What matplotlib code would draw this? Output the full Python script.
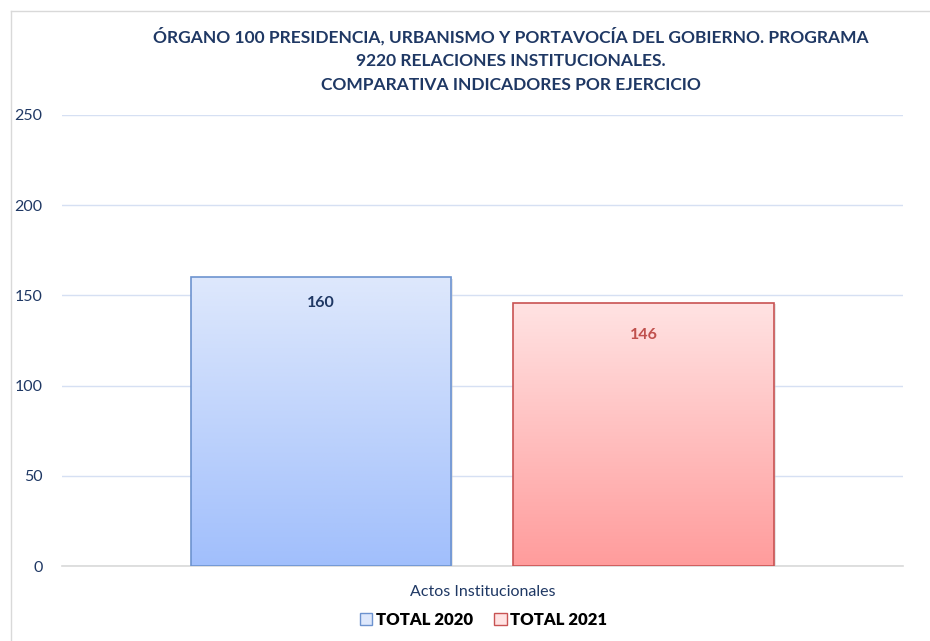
import matplotlib
matplotlib.use("Agg")
import matplotlib.pyplot as plt
import numpy as np
from matplotlib.colors import LinearSegmentedColormap
from matplotlib.patches import Patch, Rectangle

# data
categories = ["Actos Institucionales"]
series_names = ["TOTAL 2020", "TOTAL 2021"]
values = [160, 146]
yticks = [0, 50, 100, 150, 200, 250]

title = ("ÓRGANO 100 PRESIDENCIA, URBANISMO Y PORTAVOCÍA DEL GOBIERNO. PROGRAMA\n"
         "9220 RELACIONES INSTITUCIONALES.\n"
         "COMPARATIVA INDICADORES POR EJERCICIO")

plt.rcParams['font.family'] = ['Lato', 'DejaVu Sans']

top_colors = ['#DEE8FC', '#FFE3E3']
bot_colors = ['#A1BFFC', '#FF9C9C']
edge_colors = ['#6D93CF', '#C85353']
label_colors = ['#1F3864', '#C0504D']
label_drop = [14, 18]  # how far below the bar top the value label sits
dark_blue = '#1F3864'

fig = plt.figure(figsize=(9.3, 6.41), dpi=100)
ax = fig.add_axes([0.0667, 0.117, 0.904, 0.7036])

# outer border (left and top visible)
fig.add_artist(plt.Line2D([10.5 / 930, 10.5 / 930], [0, 1 - 11 / 641], transform=fig.transFigure,
                          color='#D9D9D9', lw=1))
fig.add_artist(plt.Line2D([10.5 / 930, 1], [1 - 11 / 641, 1 - 11 / 641], transform=fig.transFigure,
                          color='#D9D9D9', lw=1))

width = 0.31
offsets = [-0.192, 0.192]
x0 = np.arange(len(categories))

for i, (name, v) in enumerate(zip(series_names, values)):
    xc = x0[0] + offsets[i]
    cmap = LinearSegmentedColormap.from_list('g%d' % i, [bot_colors[i], top_colors[i]])
    grad = np.linspace(0, 1, 256).reshape(-1, 1)
    # soft shadow
    sh = Rectangle((xc - width / 2, 0), width, v, facecolor='#C8C8C8', edgecolor='none',
                   alpha=0.45, zorder=2)
    sh.set_transform(ax.transData + matplotlib.transforms.ScaledTranslation(1.5 / 100, -1.5 / 100, fig.dpi_scale_trans))
    ax.add_patch(sh)
    bar = ax.bar(xc, v, width, color='none', edgecolor=edge_colors[i], linewidth=1.2, zorder=4, label=name)[0]
    im = ax.imshow(grad, extent=[xc - width / 2, xc + width / 2, 0, v], origin='lower',
                   cmap=cmap, aspect='auto', zorder=3)
    im.set_clip_path(bar)
    ax.text(xc, v - label_drop[i], str(v), ha='center', va='center', fontsize=11.5, fontweight='bold',
            color=label_colors[i], zorder=5)

ax.set_xlim(-0.5, 0.5)
ax.set_ylim(0, 250)
ax.set_yticks(yticks)
ax.set_xticks(x0)
ax.set_xticklabels(categories)
ax.tick_params(axis='both', length=0, labelsize=11.5, colors=dark_blue)
ax.tick_params(axis='y', pad=14)
ax.tick_params(axis='x', pad=14)
ax.grid(axis='y', color='#D6E0F3', linewidth=1, zorder=0)
ax.set_axisbelow(True)
for s in ['top', 'right', 'left']:
    ax.spines[s].set_visible(False)
ax.spines['bottom'].set_color('#D9D9D9')
ax.spines['bottom'].set_linewidth(1.2)
ax.spines['bottom'].set_zorder(1)

fig.text(0.549, 1 - 60 / 641, title, ha='center', va='center', fontsize=12.5, fontweight='bold',
         color=dark_blue, linespacing=1.6)

handles = [Patch(facecolor=top_colors[i], edgecolor=edge_colors[i], label=series_names[i]) for i in range(2)]
leg = fig.legend(handles=handles, loc='center', bbox_to_anchor=(0.52, 1 - 620 / 641), ncol=2,
                 frameon=False, prop={'weight': 'heavy', 'size': 12}, handlelength=0.75, handleheight=0.75,
                 handletextpad=0.2, columnspacing=1.3)

fig.savefig("out.png", dpi=100)
